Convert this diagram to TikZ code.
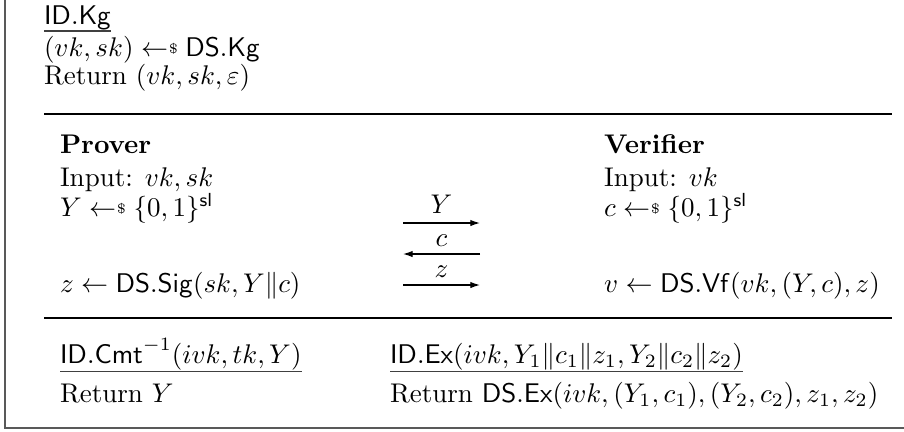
\documentclass[tikz,border=0pt]{standalone}
\usepackage{amsmath,amssymb}
\usetikzlibrary{arrows.meta}
\newcommand{\getsr}{\mathrel{\leftarrow\hspace{-2.5pt}\raisebox{0.9pt}{$\scriptscriptstyle\$$}}}
\tikzset{
  txt/.style={anchor=base west, inner sep=0pt, outer sep=0pt},
  rulel/.style={line width=0.45pt},
  uline/.style={line width=0.5pt, black!75},
  frameline/.style={line width=0.8pt, black!65},
  msg/.style={line width=0.45pt, -{Latex[length=3.6pt,width=2.4pt]}},
  msglab/.style={anchor=base, inner sep=0pt}
}
\begin{document}
\begin{tikzpicture}[x=0.37037pt, y=-0.37037pt]
\useasboundingbox (0,0) rectangle (904,431);
% frame
\draw[frameline] (5,0) -- (5,428) -- (904,428);
% key generation
\node[txt] (idkg) at (44,24) {$\mathsf{ID.Kg}$};
\draw[uline] ([yshift=-0.6pt]idkg.south west) -- ([yshift=-0.6pt]idkg.south east);
\node[txt] (kg1) at (44,56) {$(vk,sk)\getsr\mathsf{DS.Kg}$};
\node[txt] (kg2) at (44,84) {Return $(vk,sk,\varepsilon)$};
% rules
\coordinate (r1a) at (44,114); \coordinate (r1b) at (892,114);
\coordinate (r2a) at (44,318); \coordinate (r2b) at (892,318);
\draw[rulel] (r1a) -- (r1b);
\draw[rulel] (r2a) -- (r2b);
% prover
\node[txt] (prover) at (60,153) {\textbf{Prover}};
\node[txt] (pin) at (60,186) {Input: $vk,sk$};
\node[txt] (py) at (60,216) {$Y\getsr\{0,1\}^{\mathsf{sl}}$};
\node[txt] (pz) at (60,292) {$z\leftarrow\mathsf{DS.Sig}(sk,Y\|c)$};
% verifier
\node[txt] (verifier) at (604,153) {\textbf{Verifier}};
\node[txt] (vin) at (604,186) {Input: $vk$};
\node[txt] (vc) at (604,216) {$c\getsr\{0,1\}^{\mathsf{sl}}$};
\node[txt] (vv) at (604,292) {$v\leftarrow\mathsf{DS.Vf}(vk,(Y,c),z)$};
% messages
\coordinate (m1a) at (403,223); \coordinate (m1b) at (480,223);
\coordinate (m2a) at (480,254); \coordinate (m2b) at (403,254);
\coordinate (m3a) at (403,285); \coordinate (m3b) at (480,285);
\draw[msg] (m1a) -- (m1b);
\draw[msg] (m2a) -- (m2b);
\draw[msg] (m3a) -- (m3b);
\node[msglab] (lY) at (441.5,213) {$Y$};
\node[msglab] (lc) at (441.5,246) {$c$};
\node[msglab] (lz) at (441.5,277) {$z$};
% extra algorithms
\node[txt] (cmt) at (60,363) {$\mathsf{ID.Cmt}^{-1}(ivk,tk,Y)$};
\draw[uline] ([yshift=-0.6pt]cmt.south west) -- ([yshift=-0.6pt]cmt.south east);
\node[txt] (cmtret) at (60,402) {Return $Y$};
\node[txt] (ex) at (390,363) {$\mathsf{ID.Ex}(ivk,Y_1\|c_1\|z_1,Y_2\|c_2\|z_2)$};
\draw[uline] ([yshift=-0.6pt]ex.south west) -- ([yshift=-0.6pt]ex.south east);
\node[txt] (exret) at (390,402) {Return $\mathsf{DS.Ex}(ivk,(Y_1,c_1),(Y_2,c_2),z_1,z_2)$};
\end{tikzpicture}
\end{document}
